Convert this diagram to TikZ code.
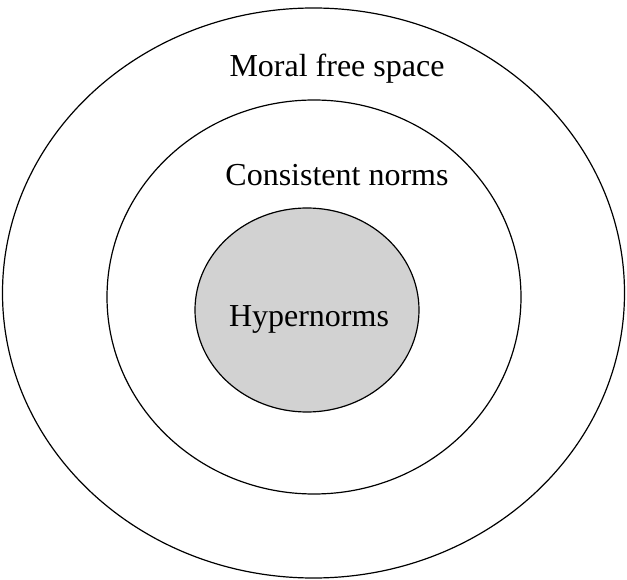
\documentclass[tikz,border=0pt]{standalone}
\usepackage{fontspec}
\setmainfont{Liberation Serif}
\usetikzlibrary{positioning, shapes.geometric}
\definecolor{hypergray}{HTML}{D2D2D2}

\tikzset{
  ring/.style={draw, ellipse, line width=1.2pt, inner sep=0pt},
  label text/.style={font=\fontsize{32}{38}\selectfont, inner sep=0pt}
}

\begin{document}
\begin{tikzpicture}[x=1pt, y=-1pt]
  \useasboundingbox (0,0) rectangle (627,580);
  % nested norm zones
  \node[ring, minimum width=622pt, minimum height=570pt] (moral) at (313.5,293) {};
  \node[ring, minimum width=414pt, minimum height=394pt] (consistent) at (314,297) {};
  \node[ring, fill=hypergray, minimum width=224pt, minimum height=204pt] (hyper) at (307,310) {};
  % zone names
  \node[label text] (moraltext) at (337,69) {Moral free space};
  \node[label text] (consistenttext) at (337,175) {Consistent norms};
  \node[label text] (hypertext) at (309,319) {Hypernorms};
\end{tikzpicture}
\end{document}
